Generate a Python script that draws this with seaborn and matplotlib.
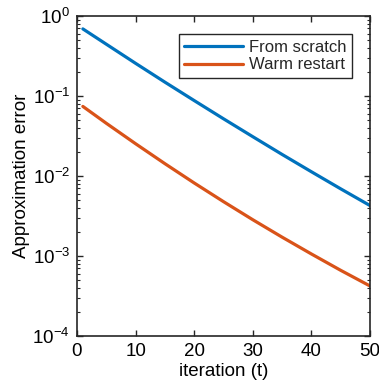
import numpy as np
import pandas as pd
import matplotlib
matplotlib.use("Agg")
import matplotlib.pyplot as plt
import seaborn as sns

# Approximation error per iteration for the two initialisation strategies
iterations = [1, 5, 10, 15, 20, 25, 30, 35, 40, 45, 50]
from_scratch = [0.69, 0.444, 0.256, 0.149, 0.0877, 0.0519, 0.0310, 0.0186, 0.0113, 0.00691, 0.00427]
warm_restart = [0.0741, 0.0456, 0.0253, 0.01426, 0.00818, 0.00478, 0.00284, 0.00172, 0.00106, 0.000662, 0.000422]
series_names = ["From scratch", "Warm restart"]
colors = ["#0072BD", "#D95319"]

x_ticks = [0, 10, 20, 30, 40, 50]
y_ticks = [1e-4, 1e-3, 1e-2, 1e-1, 1e0]

df = pd.DataFrame({
    "iteration": iterations * 2,
    "error": from_scratch + warm_restart,
    "method": [series_names[0]] * len(iterations) + [series_names[1]] * len(iterations),
})

sns.set_style("ticks")
plt.rcParams["font.family"] = ["Liberation Sans", "DejaVu Sans"]
plt.rcParams["mathtext.fontset"] = "custom"
plt.rcParams["mathtext.rm"] = "Liberation Sans"
plt.rcParams["mathtext.it"] = "Liberation Sans:italic"
axis_color = "#262626"

fig = plt.figure(figsize=(3.79, 3.87), dpi=100)
ax = fig.add_axes([77 / 379, 1 - 336 / 387, (370 - 77) / 379, (336 - 16) / 387])

sns.lineplot(data=df, x="iteration", y="error", hue="method",
             palette=colors, linewidth=2.3, ax=ax, legend=False)

ax.set_yscale("log")
ax.set_xlim(0, 50)
ax.set_ylim(1e-4, 1e0)
ax.set_xticks(x_ticks)
ax.set_yticks(y_ticks)
ax.yaxis.set_minor_locator(matplotlib.ticker.LogLocator(base=10, subs=np.arange(2, 10), numticks=20))
ax.yaxis.set_minor_formatter(matplotlib.ticker.NullFormatter())

ax.set_xlabel("iteration (t)", fontsize=13.5, color="black", labelpad=2)
ax.set_ylabel("Approximation error", fontsize=13.5, color="black", labelpad=2)

for side in ["left", "right", "top", "bottom"]:
    ax.spines[side].set_visible(True)
    ax.spines[side].set_color(axis_color)
    ax.spines[side].set_linewidth(1.2)

ax.tick_params(axis="both", which="major", direction="in", length=4, width=1,
               color=axis_color, labelsize=13.5, labelcolor="black",
               top=True, right=True, pad=5)
ax.tick_params(axis="y", which="minor", direction="in", length=2.2, width=0.8,
               color=axis_color, right=True, left=True)

handles = [matplotlib.lines.Line2D([], [], color=c, linewidth=2.3) for c in colors]
leg = ax.legend(handles, series_names, loc="upper right", fontsize=12,
                frameon=True, fancybox=False, framealpha=1, edgecolor=axis_color,
                handlelength=3.5, handletextpad=0.35, borderpad=0.35,
                labelspacing=0.15, borderaxespad=0.0,
                bbox_to_anchor=((352 - 77) / 293, (336 - 34) / 320))
leg.get_frame().set_linewidth(1.0)

fig.savefig("out.png", dpi=100)
